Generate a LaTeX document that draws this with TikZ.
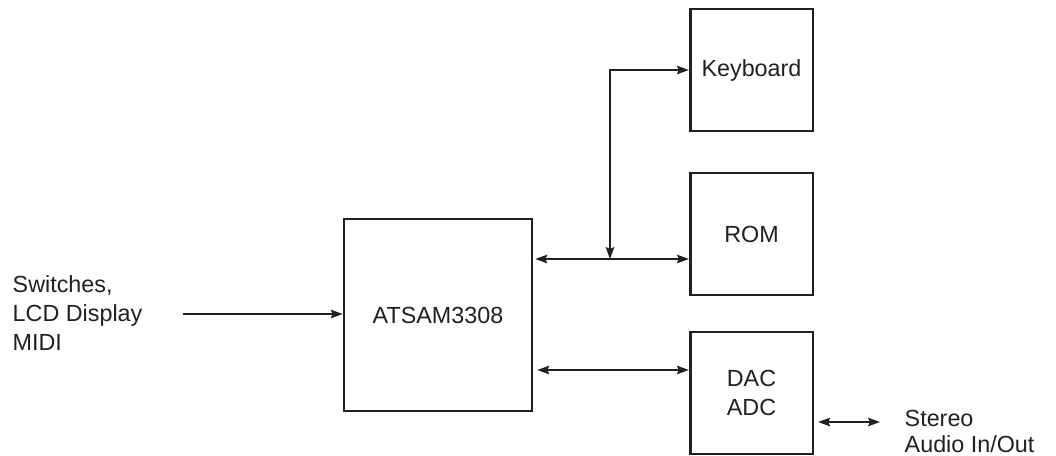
\documentclass[tikz,border=0pt]{standalone}
\usepackage{fontspec}
\setmainfont{Liberation Sans}
\usetikzlibrary{arrows.meta}
\definecolor{ink}{HTML}{231F20}

\begin{document}
\begin{tikzpicture}[x=0.75pt, y=-0.75pt, ink, text=ink,
	font=\fontsize{17.5}{21.75}\selectfont,
	blockbox/.style={draw, line width=2pt, minimum width=92pt, minimum height=91.5pt, inner sep=0pt},
	link/.style={line width=0.9pt, {Stealth[length=9pt,width=6.5pt,inset=1.5pt]}-{Stealth[length=9pt,width=6.5pt,inset=1.5pt]}},
	feed/.style={line width=0.9pt, -{Stealth[length=9pt,width=6.5pt,inset=1.5pt]}}]
	
	\useasboundingbox (0,0) rectangle (1056,456);
	
	\node [blockbox, minimum width=141pt, minimum height=144pt] (cpu) at (438,315) {ATSAM3308};
	\node [blockbox] (kbd) at (751.5,70) {Keyboard};
	\node [blockbox] (rom) at (751.5,234) {ROM};
	\node [blockbox, align=center] (dac) at (751.5,393) {DAC\\ADC};
	
	\node [anchor=west, align=left] (inp) at (8,313) {Switches,\\LCD Display\\MIDI};
	\node [anchor=west, align=left, font=\fontsize{17.5}{19.5}\selectfont] (aud) at (900,431) {Stereo\\Audio In/Out};
	
	\coordinate (src) at (183,314);
	\coordinate (bus) at (610,259);
	\coordinate (ana) at (0,370);
	\coordinate (jack) at (880,422);
	
	\draw [feed] (src) -- (cpu.west |- src);
	\draw [link, shorten <=1.5pt] (cpu.east |- bus) -- (rom.west |- bus);
	\draw [link] (bus) |- (kbd.west);
	\draw [link, shorten <=3pt] (cpu.east |- ana) -- (dac.west |- ana);
	\draw [link, shorten <=3pt] (dac.east |- jack) -- (jack);
\end{tikzpicture}
\end{document}
